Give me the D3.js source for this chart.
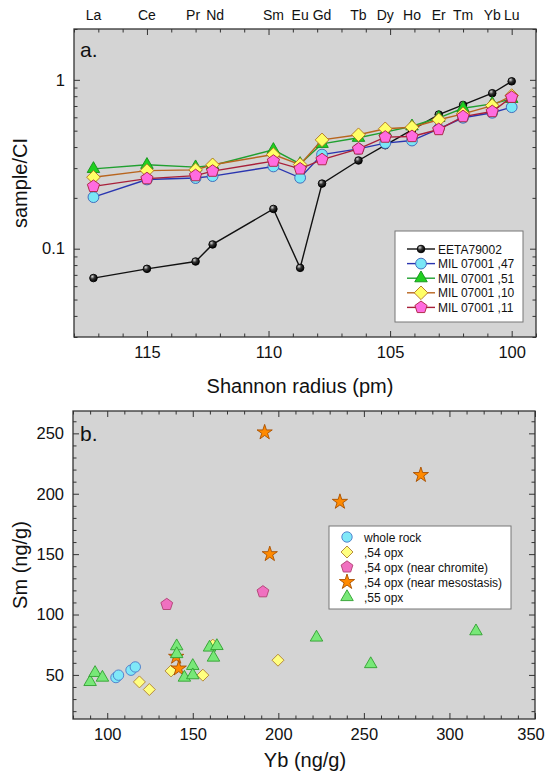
<!DOCTYPE html>
<html>
<head>
<meta charset="utf-8">
<script src="https://cdnjs.cloudflare.com/ajax/libs/d3/7.8.5/d3.min.js"></script>
<style>
body { margin: 0; background: #fff; }
text { font-family: "Liberation Sans", Arial, sans-serif; fill: #111; }
</style>
</head>
<body>
<svg id="chart" width="547" height="774"></svg>
<script>
// ---- panel a: REE pattern vs Shannon radius ----
const elements = ["La", "Ce", "Pr", "Nd", "Sm", "Eu", "Gd", "Tb", "Dy", "Ho", "Er", "Tm", "Yb", "Lu"];
const radius   = [117.2, 115.0, 113.0, 112.3, 109.8, 108.7, 107.8, 106.3, 105.2, 104.1, 103.0, 102.0, 100.8, 100.0];

const eeta79002 = [0.067, 0.076, 0.084, 0.106, 0.172, 0.077, 0.243, 0.333, 0.41, 0.505, 0.623, 0.71, 0.833, 0.98];
const mil47     = [0.202, 0.257, 0.262, 0.269, 0.307, 0.263, 0.361, 0.39, 0.422, 0.437, 0.513, 0.596, 0.638, 0.689];
const mil51     = [0.297, 0.314, 0.304, 0.311, 0.385, 0.318, 0.418, 0.454, 0.49, 0.531, 0.596, 0.679, 0.721, 0.772];
const mil10     = [0.265, 0.29, 0.293, 0.314, 0.361, 0.315, 0.441, 0.473, 0.513, 0.524, 0.58, 0.629, 0.704, 0.807];
const mil11     = [0.234, 0.26, 0.271, 0.288, 0.33, 0.297, 0.337, 0.39, 0.458, 0.462, 0.508, 0.606, 0.649, 0.789];

const seriesNamesA = ["EETA79002", "MIL 07001 ,47", "MIL 07001 ,51", "MIL 07001 ,10", "MIL 07001 ,11"];

// ---- panel b: Sm vs Yb ----
const wholeRockYb = [105.1, 106.6, 113.9, 116.4];
const wholeRockSm = [47.8, 49.8, 53.9, 56.6];
const opx54Yb = [118.8, 124.6, 137.3, 155.9, 199.8, 161.7];
const opx54Sm = [44.2, 37.9, 53.3, 49.8, 62.2, 74.7];
const chromiteYb = [134.8, 191.0];
const chromiteSm = [108.3, 118.8];
const mesoYb = [192.0, 195.0, 283.3, 236.0, 140.3, 141.8];
const mesoSm = [250.8, 150.0, 215.5, 193.3, 65.0, 55.3];
const opx55Yb = [90.0, 92.9, 97.2, 140.6, 140.6, 145.1, 150.0, 150.0, 159.8, 162.1, 164.1, 222.3, 254.0, 315.5];
const opx55Sm = [44.2, 51.7, 47.8, 73.8, 67.3, 47.8, 57.5, 49.8, 72.7, 64.4, 74.0, 81.0, 59.0, 86.2];

const seriesNamesB = ["whole rock", ",54 opx", ",54 opx (near chromite)", ",54 opx (near mesostasis)", ",55 opx"];

// ---------------------------------------------------------------
const svg = d3.select("#chart");
const PLOT_BG = "#d4d4d4";
const FRAME = "#333";

let defs = svg.append("defs");
let grad = defs.append("radialGradient").attr("id", "sphere")
    .attr("cx", "35%").attr("cy", "30%").attr("r", "70%");
grad.append("stop").attr("offset", "0%").attr("stop-color", "#d8d8d8");
grad.append("stop").attr("offset", "45%").attr("stop-color", "#333");
grad.append("stop").attr("offset", "100%").attr("stop-color", "#000");

function pentagon (r) {
    let pts = d3.range(5).map((i) => {
        let a = -Math.PI / 2 + i * 2 * Math.PI / 5;
        return [r * Math.cos(a), r * Math.sin(a)];
    });
    return "M" + pts.join("L") + "Z";
}
function diamond (r) {
    return "M0," + (-r) + "L" + r + ",0L0," + r + "L" + (-r) + ",0Z";
}
function circle (r) { return d3.symbol(d3.symbolCircle, Math.PI * r * r)(); }
function triangle (w) { return d3.symbol(d3.symbolTriangle, Math.sqrt(3) / 4 * w * w)(); }
function star (r) { return d3.symbol(d3.symbolStar, r * r / 0.8908130915292852)(); }

// ticks pointing inward on all four sides
function frameAxes (g, x, y, opt) {
    let [x0, x1] = x.range();
    let [y0, y1] = y.range();  // y0 bottom, y1 top

    g.append("rect").attr("x", x0).attr("y", y1)
        .attr("width", x1 - x0).attr("height", y0 - y1).attr("fill", PLOT_BG);

    let sides = [
        { ax: d3.axisBottom(x), tr: "translate(0," + y0 + ")", major: opt.xMajor, minor: opt.xMinor, lab: opt.xLabels },
        { ax: d3.axisTop(x),    tr: "translate(0," + y1 + ")", major: opt.xMajor, minor: opt.xMinor, lab: false },
        { ax: d3.axisLeft(y),   tr: "translate(" + x0 + ",0)", major: opt.yMajor, minor: opt.yMinor, lab: true },
        { ax: d3.axisRight(y),  tr: "translate(" + x1 + ",0)", major: opt.yMajor, minor: opt.yMinor, lab: false },
    ];
    let bottom = null;
    for (let side of sides) {
        let major = g.append("g").attr("transform", side.tr)
            .call(side.ax.tickValues(side.major).tickSize(-6).tickPadding(opt.pad)
                .tickFormat(side.lab ? opt.fmt : () => ""));
        g.append("g").attr("transform", side.tr)
            .call(side.ax.tickValues(side.minor).tickSize(-3.5).tickFormat(() => ""));
        major.selectAll("text").style("font-size", "16.5px").attr("fill", "#111");
        if (!bottom) bottom = major;
    }
    // last bottom label sits at the page edge, pull it in a little
    if (opt.lastDx)
        bottom.selectAll(".tick text").filter((d, i, n) => i === n.length - 1).attr("dx", opt.lastDx);

    g.selectAll(".domain").remove();
    g.selectAll(".tick line").attr("stroke", FRAME).attr("stroke-width", 1);

    g.append("rect").attr("x", x0).attr("y", y1)
        .attr("width", x1 - x0).attr("height", y0 - y1)
        .attr("fill", "none").attr("stroke", FRAME).attr("stroke-width", 1.3);
}

// ================= panel a =================
const xA = d3.scaleLinear().domain([118, 99]).range([74, 536]);
const yA = d3.scaleLog().domain([0.03, 2]).range([337, 29]);

let ga = svg.append("g");
frameAxes(ga, xA, yA, {
    xMajor: [115, 110, 105, 100],
    xMinor: d3.range(99, 119).filter((v) => v % 5 !== 0),
    yMajor: [0.1, 1],
    yMinor: [0.03, 0.04, 0.05, 0.06, 0.07, 0.08, 0.09, 0.2, 0.3, 0.4, 0.5, 0.6, 0.7, 0.8, 0.9, 2],
    xLabels: true,
    pad: 9,
    fmt: (d) => String(d),
});

// element names along the top (Pr/Nd nudged apart so they do not touch)
const labelNudge = { Pr: -2.5, Nd: 2.5 };
ga.selectAll("text.el")
    .data(elements)
    .enter()
    .append("text")
    .attr("class", "el")
    .attr("x", (d, i) => xA(radius[i]) + (labelNudge[d] || 0))
    .attr("y", 20)
    .attr("text-anchor", "middle")
    .style("font-size", "14px")
    .text((d) => d);

const stylesA = [
    { line: "#111",    fill: "url(#sphere)", stroke: "#000",    path: circle(3.8) },
    { line: "#2a35b0", fill: "#7ae6f6",      stroke: "#3a62b8", path: circle(5.4) },
    { line: "#20a030", fill: "#20d020",      stroke: "#129018", path: triangle(12.5) },
    { line: "#b8651e", fill: "#ffff66",      stroke: "#b07020", path: diamond(6.8) },
    { line: "#a8203a", fill: "#ff6ce0",      stroke: "#a8203a", path: pentagon(6.4) },
];
const valuesA = [eeta79002, mil47, mil51, mil10, mil11];

const lineA = d3.line()
    .x((d, i) => xA(radius[i]))
    .y((d) => yA(d));

valuesA.forEach((vals, k) => {
    let st = stylesA[k];
    ga.append("path").datum(vals)
        .attr("d", lineA).attr("fill", "none")
        .attr("stroke", st.line).attr("stroke-width", 1.4);
    ga.selectAll("path.m" + k)
        .data(vals)
        .enter()
        .append("path")
        .attr("class", "m" + k)
        .attr("d", st.path)
        .attr("transform", (d, i) => "translate(" + xA(radius[i]) + "," + yA(d) + ")")
        .attr("fill", st.fill).attr("stroke", st.stroke).attr("stroke-width", 0.9);
});

// legend a
let la = ga.append("g");
la.append("rect").attr("x", 395).attr("y", 231).attr("width", 128).attr("height", 91)
    .attr("fill", "#fff").attr("stroke", "#777").attr("stroke-width", 1);
seriesNamesA.forEach((name, k) => {
    let st = stylesA[k];
    let yy = 249 + k * 14.6;
    la.append("line").attr("x1", 407).attr("x2", 435).attr("y1", yy).attr("y2", yy)
        .attr("stroke", st.line).attr("stroke-width", 1.4);
    la.append("path").attr("d", st.path).attr("transform", "translate(421," + yy + ")")
        .attr("fill", st.fill).attr("stroke", st.stroke).attr("stroke-width", 0.9);
    la.append("text").attr("x", 438).attr("y", yy + 4.5)
        .style("font-size", "12px").text(name);
});

ga.append("text").attr("x", 80).attr("y", 57).style("font-size", "21px").text("a.");
ga.append("text").attr("transform", "translate(27,183) rotate(-90)")
    .attr("text-anchor", "middle").style("font-size", "20px").text("sample/CI");
ga.append("text").attr("x", 300).attr("y", 393)
    .attr("text-anchor", "middle").style("font-size", "20px").text("Shannon radius (pm)");

// ================= panel b =================
const xB = d3.scaleLinear().domain([80, 350]).range([73, 535]);
const yB = d3.scaleLinear().domain([13.5, 268.5]).range([719, 411]);

let gb = svg.append("g");
frameAxes(gb, xB, yB, {
    xMajor: [100, 150, 200, 250, 300, 350],
    xMinor: d3.range(80, 351, 10).filter((v) => v % 50 !== 0),
    yMajor: [50, 100, 150, 200, 250],
    yMinor: d3.range(20, 261, 10).filter((v) => v % 50 !== 0),
    xLabels: true,
    pad: 9,
    fmt: (d) => String(d),
    lastDx: -4.5,
});

const stylesB = [
    { fill: "#80e8f8", stroke: "#4a78c8", path: circle(5.2) },
    { fill: "#ffff80", stroke: "#b08030", path: diamond(6) },
    { fill: "#f070c0", stroke: "#b04070", path: pentagon(6.2) },
    { fill: "#ff8a00", stroke: "#a85000", path: star(8) },
    { fill: "#78e878", stroke: "#30a030", path: triangle(12.5) },
];
const xsB = [wholeRockYb, opx54Yb, chromiteYb, mesoYb, opx55Yb];
const ysB = [wholeRockSm, opx54Sm, chromiteSm, mesoSm, opx55Sm];

xsB.forEach((xs, k) => {
    let st = stylesB[k];
    gb.selectAll("path.p" + k)
        .data(xs)
        .enter()
        .append("path")
        .attr("class", "p" + k)
        .attr("d", st.path)
        .attr("transform", (d, i) => "translate(" + xB(d) + "," + yB(ysB[k][i]) + ")")
        .attr("fill", st.fill).attr("stroke", st.stroke).attr("stroke-width", 0.9);
});

// legend b
let lb = gb.append("g");
lb.append("rect").attr("x", 329).attr("y", 526).attr("width", 182).attr("height", 83)
    .attr("fill", "#fff").attr("stroke", "#777").attr("stroke-width", 1);
seriesNamesB.forEach((name, k) => {
    let st = stylesB[k];
    let yy = 537 + k * 15;
    lb.append("path").attr("d", st.path).attr("transform", "translate(347," + yy + ")")
        .attr("fill", st.fill).attr("stroke", st.stroke).attr("stroke-width", 0.9);
    lb.append("text").attr("x", 364).attr("y", yy + 4.5)
        .style("font-size", "12px").text(name);
});

gb.append("text").attr("x", 80).attr("y", 441).style("font-size", "21px").text("b.");
gb.append("text").attr("transform", "translate(27,565) rotate(-90)")
    .attr("text-anchor", "middle").style("font-size", "20px").text("Sm (ng/g)");
gb.append("text").attr("x", 305).attr("y", 767)
    .attr("text-anchor", "middle").style("font-size", "20px").text("Yb (ng/g)");
</script>
</body>
</html>
